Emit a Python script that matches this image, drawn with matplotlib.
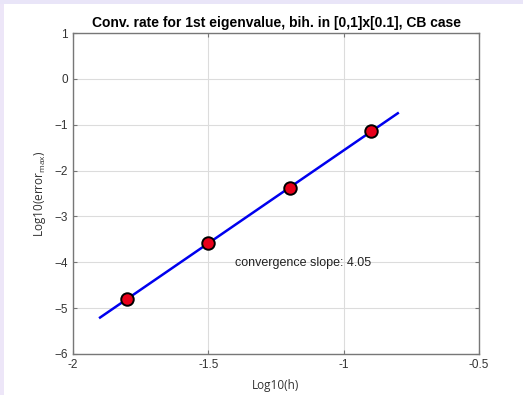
import matplotlib
matplotlib.use("Agg")
import matplotlib.pyplot as plt
import numpy as np
from matplotlib.patches import Rectangle

log_h = [-1.8, -1.5, -1.2, -0.9]
log_err = [-4.80, -3.59, -2.38, -1.14]
fit_x = [-1.9, -0.8]
slope = 4.05
intercept = 2.49
x_ticks = [-2, -1.5, -1, -0.5]
x_ticklabels = ["-2", "-1.5", "-1", "-0.5"]
y_ticks = [1, 0, -1, -2, -3, -4, -5, -6]

plt.rcParams['font.family'] = ['Liberation Sans', 'DejaVu Sans']

W, H = 523, 395
fig = plt.figure(figsize=(W / 100, H / 100), dpi=100)
fig.patch.set_facecolor('white')
fig.patches.append(Rectangle((0, 0), 4 / W, 1, transform=fig.transFigure,
                             facecolor='#ede6f8', edgecolor='none', zorder=-10))
fig.patches.append(Rectangle((0, 1 - 4 / H), 1, 4 / H, transform=fig.transFigure,
                             facecolor='#e9e5f8', edgecolor='none', zorder=-10))

ax = fig.add_axes([73 / W, 1 - 354 / H, (479 - 73) / W, (354 - 33) / H])
ax.set_zorder(5)
ax.set_xlim(-2, -0.5)
ax.set_ylim(-6, 1)
ax.set_xticks(x_ticks)
ax.set_xticklabels(x_ticklabels)
ax.set_yticks(y_ticks)
ax.grid(True, color='#dcdcdc', linewidth=0.8)
ax.set_axisbelow(True)
for s in ax.spines.values():
    s.set_color('#777777')
    s.set_linewidth(1.0)
ax.tick_params(direction='in', length=3, color='#777777', labelcolor='#333333',
               labelsize=8.5, top=True, right=True)

fx = np.array(fit_x)
ax.plot(fx, slope * fx + intercept, color='#0000ee', linewidth=1.8, zorder=2)
ax.plot(log_h, log_err, 'o', markersize=9, markerfacecolor='#e8001a',
        markeredgecolor='black', markeredgewidth=1.4, zorder=3)

ax.text(-1.4, -4.02, 'convergence slope: 4.05', fontsize=9, color='#222222',
        va='center', ha='left')

ax.set_title('Conv. rate for 1st eigenvalue, bih. in [0,1]x[0.1], CB case',
             fontsize=10, fontweight='bold', pad=4)
ax.set_xlabel('Log10(h)', fontsize=8.5, color='#333333', labelpad=6,
              family=['Open Sans', 'DejaVu Sans'])
ax.set_ylabel(r'Log10(error$_{\mathregular{max}}$)', fontsize=8.5, color='#333333',
              labelpad=5, family=['Open Sans', 'DejaVu Sans'])

fig.savefig('out.png', dpi=100)
